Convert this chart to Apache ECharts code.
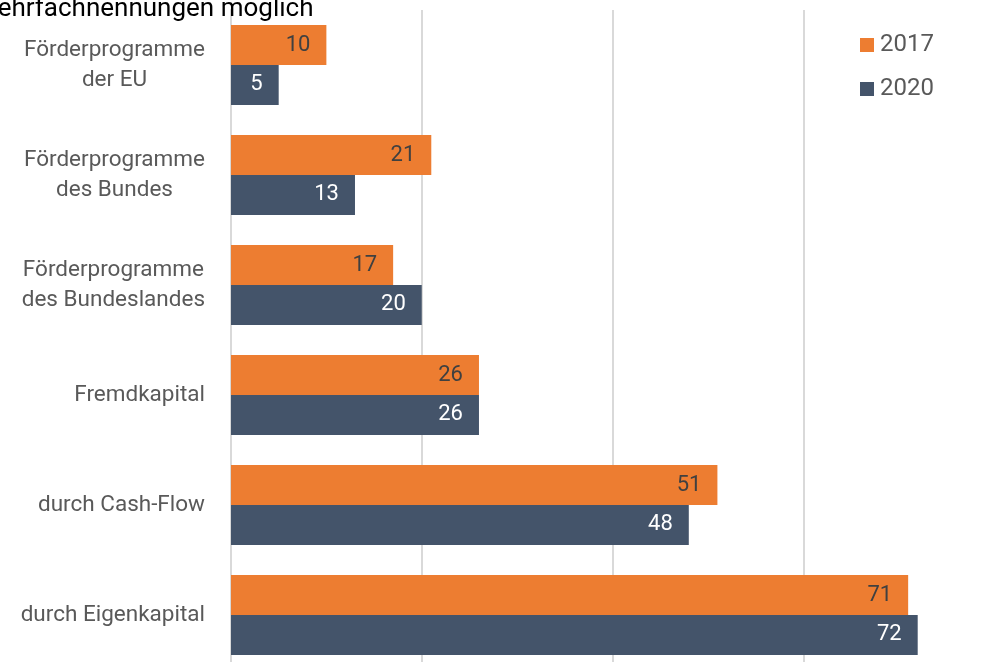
<!DOCTYPE html>
<html>
<head>
<meta charset="utf-8">
<script src="https://cdn.jsdelivr.net/npm/echarts@6/dist/echarts.min.js"></script>
<style>
  html, body { margin: 0; padding: 0; background: #fff; }
  #chart { width: 988px; height: 662px; }
</style>
</head>
<body>
<div id="chart"></div>
<script>
const categories = [
  'Förderprogramme\nder EU',
  'Förderprogramme\ndes Bundes',
  'Förderprogramme\ndes Bundeslandes',
  'Fremdkapital',
  'durch Cash-Flow',
  'durch Eigenkapital'
]
const values2017 = [10, 21, 17, 26, 51, 71]
const values2020 = [5, 13, 20, 26, 48, 72]
const xTicks = [0, 20, 40, 60, 80]

const font = 'Roboto'

const chart = echarts.init(document.getElementById('chart'))

const option = {
  animation: false,
  textStyle: { fontFamily: font },
  title: {
    text: 'Mehrfachnennungen möglich',
    left: -25,
    top: -4,
    padding: 0,
    textStyle: { fontFamily: font, fontSize: 26, fontWeight: 'normal', color: '#000' }
  },
  legend: {
    orient: 'vertical',
    left: 860,
    top: 33,
    padding: 0,
    itemWidth: 14,
    itemHeight: 14,
    itemGap: 20,
    icon: 'rect',
    textStyle: { fontFamily: font, fontSize: 24, color: '#595959', padding: [0, 0, 0, 1] },
    data: ['2017', '2020']
  },
  grid: {
    left: 231,
    width: 763,
    top: 10,
    height: 660,
    containLabel: false,
    outerBoundsMode: 'none'
  },
  xAxis: {
    type: 'value',
    min: xTicks[0],
    max: xTicks[xTicks.length - 1],
    interval: 20,
    axisLabel: { show: false },
    axisLine: { show: false },
    axisTick: { show: false },
    splitLine: { lineStyle: { color: '#d9d9d9', width: 2 } }
  },
  yAxis: {
    type: 'category',
    inverse: true,
    data: categories,
    axisLine: { show: true, lineStyle: { color: '#d9d9d9', width: 2 } },
    axisTick: { show: false },
    axisLabel: {
      margin: 26,
      formatter: function (v) {
        return v.split('\n').map(function (s) { return '{c|' + s + '}' }).join('\n')
      },
      rich: {
        c: { align: 'center', fontFamily: font, fontSize: 22.5, lineHeight: 30, color: '#595959' }
      }
    }
  },
  series: [
    {
      name: '2017',
      type: 'bar',
      data: values2017,
      barGap: '0%',
      barCategoryGap: '27.3%',
      itemStyle: { color: '#ED7D31' },
      label: {
        show: true,
        position: 'insideRight',
        distance: 16,
        fontFamily: font,
        fontSize: 22,
        color: '#404040'
      }
    },
    {
      name: '2020',
      type: 'bar',
      data: values2020,
      barGap: '0%',
      barCategoryGap: '27.3%',
      itemStyle: { color: '#44546A' },
      label: {
        show: true,
        position: 'insideRight',
        distance: 16,
        fontFamily: font,
        fontSize: 22,
        color: '#fff'
      }
    }
  ]
}

chart.setOption(option)
</script>
</body>
</html>
